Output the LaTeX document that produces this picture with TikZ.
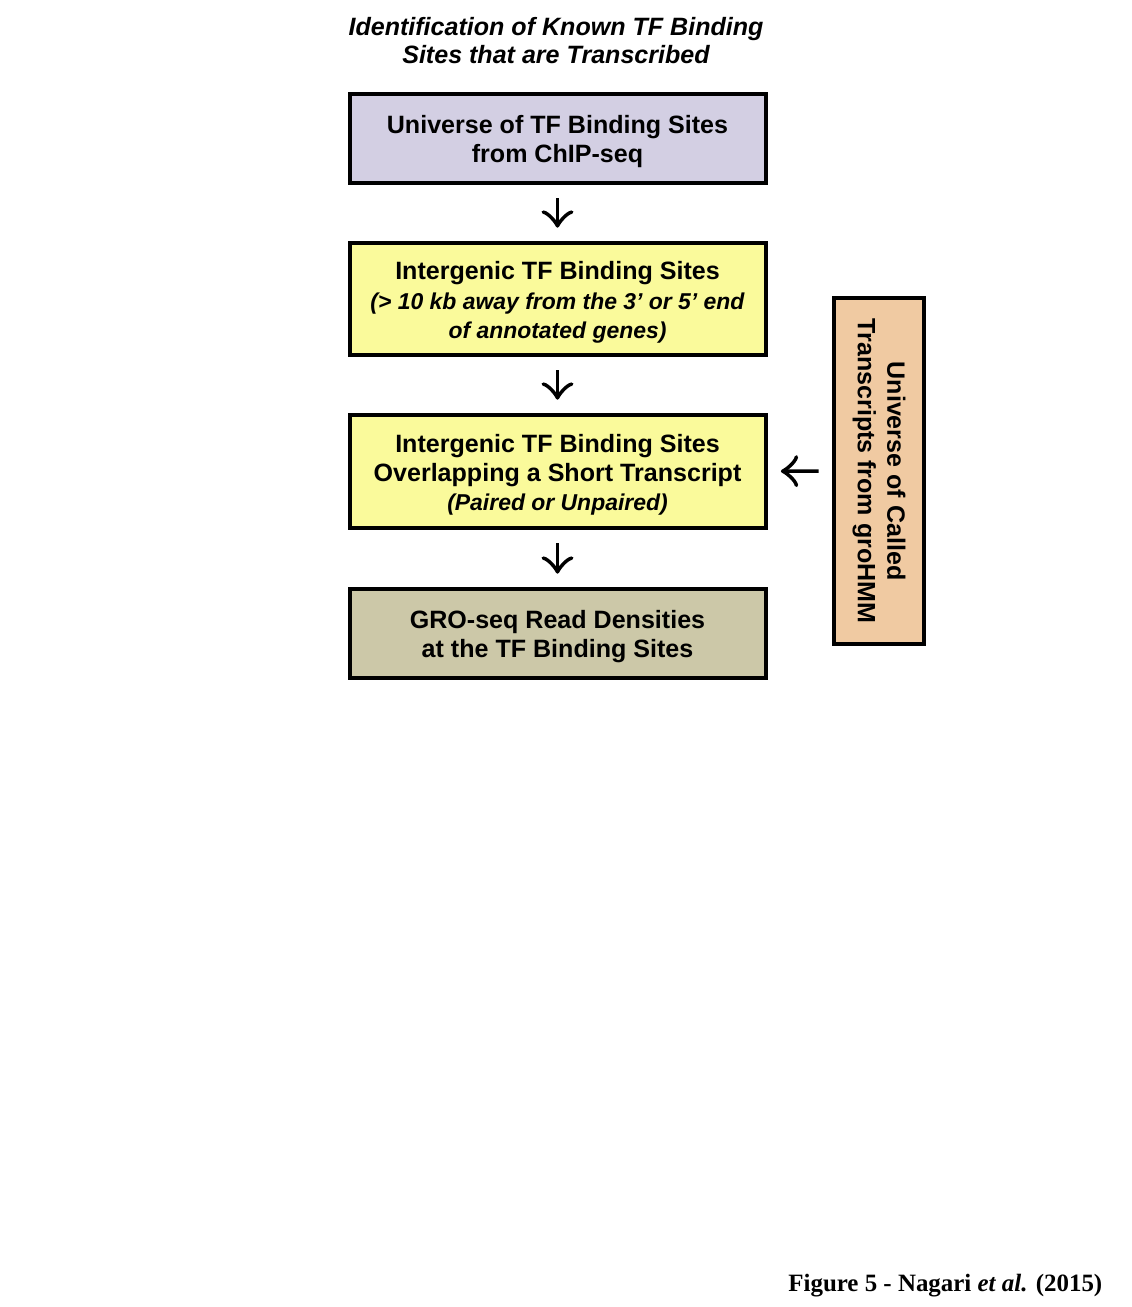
\documentclass[tikz,border=0pt]{standalone}
\usepackage{fontspec}
\setmainfont{Liberation Serif}
\setsansfont{Liberation Sans}
\usepackage{xcolor}
\usetikzlibrary{arrows.meta,shapes,calc,positioning}
\definecolor{chipfill}{RGB}{211,207,227}
\definecolor{genefill}{RGB}{250,250,155}
\definecolor{densfill}{RGB}{204,200,168}
\definecolor{hmmfill}{RGB}{240,202,162}
% first-line strut, pushes the box text a little down
\newcommand{\downstrut}{\rule{0pt}{18.6pt}}
\newcommand{\notefont}{\sffamily\bfseries\itshape\fontsize{17.2}{20.5}\selectfont}

\begin{document}
\begin{tikzpicture}[x=0.75pt, y=-0.75pt]
		\tikzstyle{every node}=[font=\sffamily\bfseries\fontsize{18.8}{22}\selectfont, align=center]
		\tikzstyle{stage}=[draw, line width=3pt, minimum width=416*0.75pt, inner sep=0pt]
		\tikzstyle{flow}=[line width=2.6pt, -{Classical TikZ Rightarrow[length=13pt,width=24pt,line width=2.6pt]}, shorten <=10pt, shorten >=10pt]
		\useasboundingbox (0,0) rectangle (1132,1307);
		\node [font=\sffamily\bfseries\itshape\fontsize{18.8}{21}\selectfont] (title) at (556,41) {Identification of Known TF Binding\\Sites that are Transcribed};
		\node [stage, fill=chipfill, minimum height=89*0.75pt] (chip) at (557.5,138.5) {\downstrut Universe of TF Binding Sites\\from ChIP-seq};
		\node [stage, fill=genefill, minimum height=112*0.75pt] (intergenic) at (557.5,299) {\downstrut Intergenic TF Binding Sites\\{\notefont (> 10 kb away from the 3’ or 5’ end}\\{\notefont of annotated genes)}};
		\node [stage, fill=genefill, minimum height=113*0.75pt] (overlap) at (557.5,471.5) {\downstrut Intergenic TF Binding Sites\\Overlapping a Short Transcript\\{\notefont (Paired or Unpaired)}};
		\node [stage, fill=densfill, minimum height=89*0.75pt] (density) at (557.5,633.5) {\downstrut GRO-seq Read Densities\\at the TF Binding Sites};
		\node [draw, line width=3pt, fill=hmmfill, minimum width=90*0.75pt, minimum height=346*0.75pt] (called) at (879,471) {};
		\node [rotate=-90] (calledtext) at (called.center) {Universe of Called\\Transcripts from groHMM};
		\draw [flow] (chip) -- (intergenic);
		\draw [flow] (intergenic) -- (overlap);
		\draw [flow] (overlap) -- (density);
		\draw [flow] (called) -- (overlap);
		\node [font=\rmfamily\bfseries\fontsize{18.7}{21}\selectfont, anchor=east] (caption) at (1107,1286) {Figure 5 - Nagari {\itshape et al.} (2015)};
		\end{tikzpicture}
\end{document}
